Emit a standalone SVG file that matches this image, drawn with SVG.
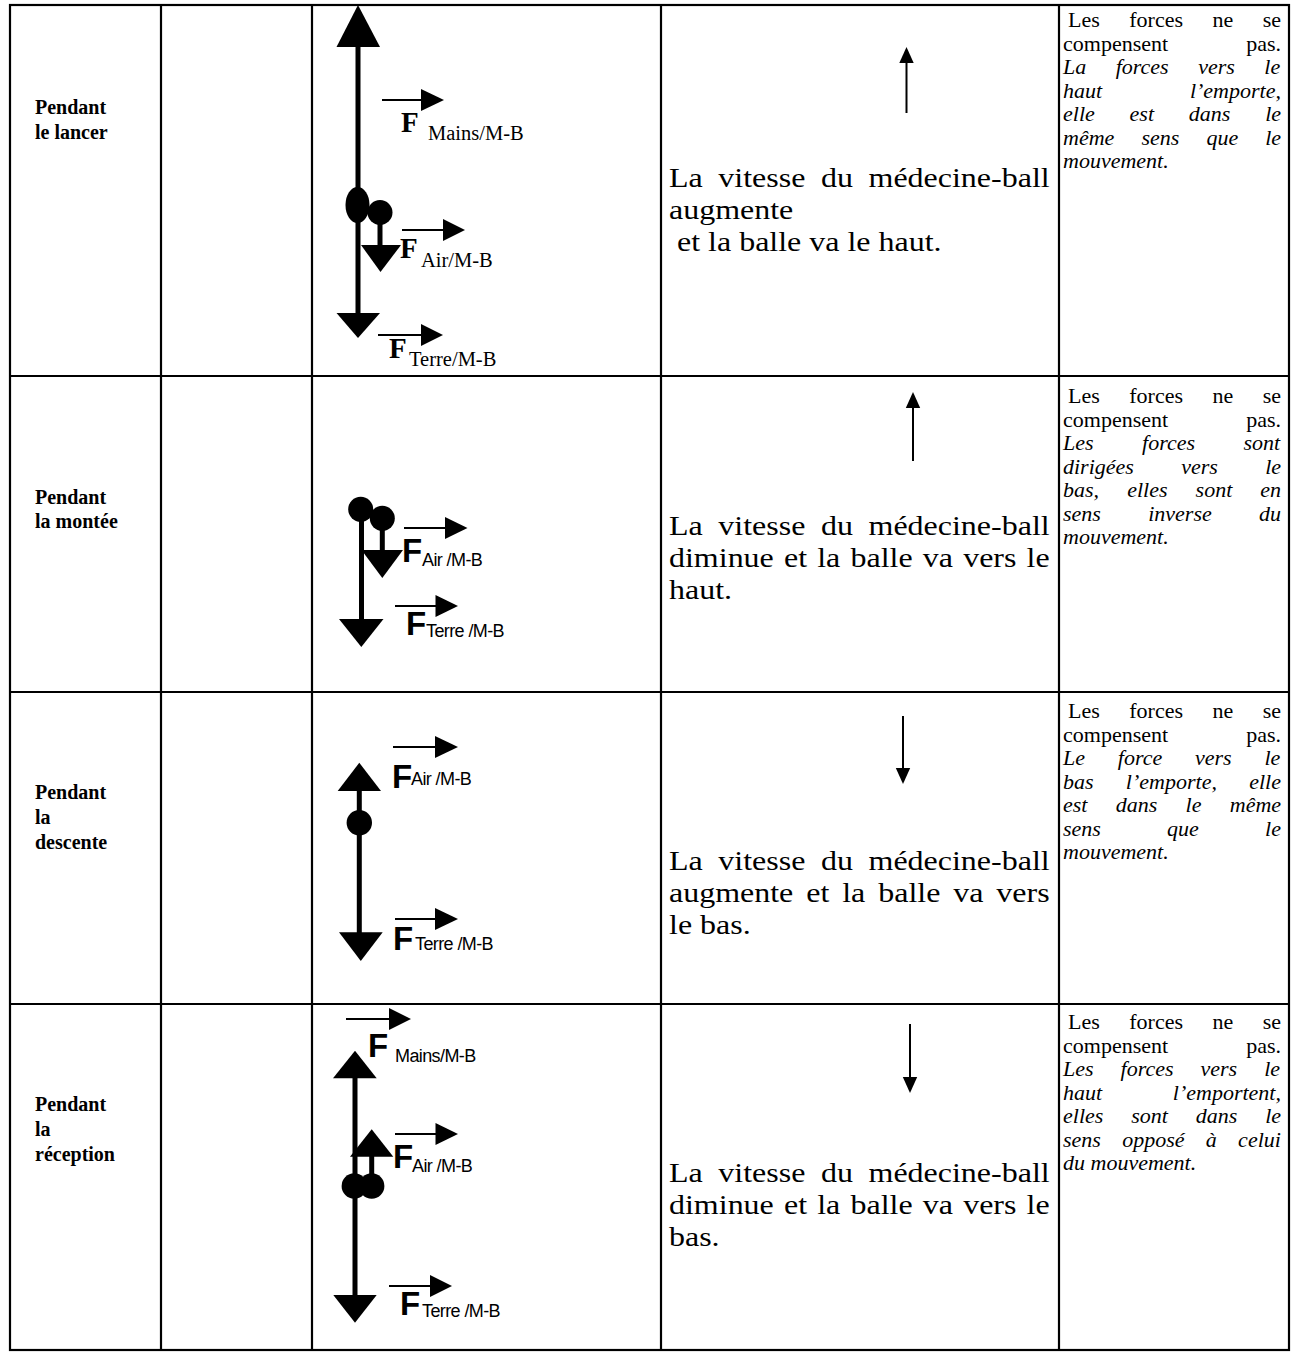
<svg xmlns="http://www.w3.org/2000/svg" width="1291" height="1352" viewBox="0 0 1291 1352">
<style>
.grid{stroke:#000;stroke-width:2.2;fill:none}
.shaft{stroke:#000;stroke-width:5;fill:none}
.thin{stroke:#000;stroke-width:2;fill:none}
.head{fill:#000;stroke:none}
.ball{fill:#000;stroke:none}
.lc{font-family:"Liberation Serif","Times New Roman",serif;font-weight:bold;font-size:20px}
.c4{font-family:"Liberation Serif","Times New Roman",serif;font-size:28px}
.rc{font-family:"Liberation Serif","Times New Roman",serif;font-size:22px}
.it{font-style:italic}
.fT{font-family:"Liberation Serif","Times New Roman",serif;font-weight:bold;font-size:29px}
.sT{font-family:"Liberation Serif","Times New Roman",serif;font-size:20.5px}
.fA{font-family:"Liberation Sans",Arial,sans-serif;font-weight:bold;font-size:33px}
.sA{font-family:"Liberation Sans",Arial,sans-serif;font-size:18px;letter-spacing:-0.6px}
</style>

<g id="table">
<rect class="grid" x="10" y="5" width="1279" height="1345"/>
<line class="grid" x1="161" y1="5" x2="161" y2="1350"/>
<line class="grid" x1="312" y1="5" x2="312" y2="1350"/>
<line class="grid" x1="661" y1="5" x2="661" y2="1350"/>
<line class="grid" x1="1059" y1="5" x2="1059" y2="1350"/>
<line class="grid" x1="10" y1="376" x2="1289" y2="376"/>
<line class="grid" x1="10" y1="692" x2="1289" y2="692"/>
<line class="grid" x1="10" y1="1004" x2="1289" y2="1004"/>
</g>

<g id="phases" class="lc">
<text x="35" y="114">Pendant</text>
<text x="35" y="139">le lancer</text>
<text x="35" y="504">Pendant</text>
<text x="35" y="528">la montée</text>
<text x="35" y="799">Pendant</text>
<text x="35" y="824">la</text>
<text x="35" y="849">descente</text>
<text x="35" y="1111">Pendant</text>
<text x="35" y="1136">la</text>
<text x="35" y="1161">réception</text>
</g>

<!-- Row 1 diagram -->
<g id="row1-diagram">
<line class="shaft" x1="358" y1="45" x2="358" y2="315"/>
<polygon class="head" points="358,5 336.5,47 380,47"/>
<polygon class="head" points="336.5,313 380,313 358,338"/>
<ellipse class="ball" cx="357.5" cy="205" rx="12" ry="18"/>
<circle class="ball" cx="380" cy="212.5" r="12.5"/>
<line class="shaft" x1="380" y1="212" x2="380" y2="247"/>
<polygon class="head" points="361,245 401,245 380.5,272"/>
<g id="r1-mains">
<line class="thin" x1="382" y1="100" x2="423" y2="100"/>
<polygon class="head" points="421,89 444,100 421,111"/>
<text class="fT" x="401" y="132">F</text>
<text class="sT" x="428" y="140">Mains/M-B</text>
</g>
<g id="r1-air">
<line class="thin" x1="402" y1="230" x2="445" y2="230"/>
<polygon class="head" points="443,219 465,230 443,241"/>
<text class="fT" x="400" y="258">F</text>
<text class="sT" x="421" y="267">Air/M-B</text>
</g>
<g id="r1-terre">
<line class="thin" x1="378" y1="335" x2="423" y2="335"/>
<polygon class="head" points="421,324 443,335 421,346"/>
<text class="fT" x="389" y="358">F</text>
<text class="sT" x="409" y="366">Terre/M-B</text>
</g>
</g>

<!-- Row 2 diagram -->
<g id="row2-diagram">
<circle class="ball" cx="360.7" cy="509.3" r="12.5"/>
<circle class="ball" cx="382.3" cy="518.3" r="12.5"/>
<line class="shaft" x1="361.5" y1="509" x2="361.5" y2="621"/>
<polygon class="head" points="339,619 383.5,619 361.3,647"/>
<line class="shaft" x1="382.3" y1="518" x2="382.3" y2="552"/>
<polygon class="head" points="361.5,550 403,550 382.3,578"/>
<g id="r2-air">
<line class="thin" x1="404" y1="528" x2="447" y2="528"/>
<polygon class="head" points="445,517 467.5,528 445,539"/>
<text class="fA" x="402" y="562">F</text>
<text class="sA" x="422" y="566">Air /M-B</text>
</g>
<g id="r2-terre">
<line class="thin" x1="395" y1="606" x2="437" y2="606"/>
<polygon class="head" points="435.5,595 458,606 435.5,617"/>
<text class="fA" x="406" y="635">F</text>
<text class="sA" x="426" y="637">Terre /M-B</text>
</g>
</g>

<!-- Row 3 diagram -->
<g id="row3-diagram">
<polygon class="head" points="359.3,762.7 337.7,791 381,791"/>
<line class="shaft" x1="359.3" y1="789" x2="359.3" y2="934"/>
<circle class="ball" cx="359.3" cy="822.7" r="12.7"/>
<polygon class="head" points="339,932.3 382.7,932.3 360.8,961"/>
<g id="r3-air">
<line class="thin" x1="393" y1="747" x2="437" y2="747"/>
<polygon class="head" points="435,736 458,747 435,758"/>
<text class="fA" x="392" y="788">F</text>
<text class="sA" x="411" y="785">Air /M-B</text>
</g>
<g id="r3-terre">
<line class="thin" x1="395" y1="919" x2="437" y2="919"/>
<polygon class="head" points="435,908 458,919 435,930"/>
<text class="fA" x="393" y="950">F</text>
<text class="sA" x="415" y="950">Terre /M-B</text>
</g>
</g>

<!-- Row 4 diagram -->
<g id="row4-diagram">
<polygon class="head" points="355,1050.7 333,1078.3 376.7,1078.3"/>
<line class="shaft" x1="355" y1="1076" x2="355" y2="1297"/>
<polygon class="head" points="333.3,1295 376.7,1295 355,1322.7"/>
<polygon class="head" points="371.7,1129.3 350,1156.7 393.3,1156.7"/>
<line class="shaft" x1="371.7" y1="1154" x2="371.7" y2="1186"/>
<circle class="ball" cx="354.3" cy="1186" r="12.7"/>
<circle class="ball" cx="371.7" cy="1186" r="12.7"/>
<g id="r4-mains">
<line class="thin" x1="346" y1="1019" x2="391" y2="1019"/>
<polygon class="head" points="389,1008 411,1019 389,1030"/>
<text class="fA" x="368" y="1057">F</text>
<text class="sA" x="395" y="1062">Mains/M-B</text>
</g>
<g id="r4-air">
<line class="thin" x1="395" y1="1134" x2="437" y2="1134"/>
<polygon class="head" points="435.5,1123 458,1134 435.5,1145"/>
<text class="fA" x="393" y="1168">F</text>
<text class="sA" x="412" y="1172">Air /M-B</text>
</g>
<g id="r4-terre">
<line class="thin" x1="389" y1="1286" x2="432" y2="1286"/>
<polygon class="head" points="430,1275 452,1286 430,1297"/>
<text class="fA" x="400" y="1315">F</text>
<text class="sA" x="422" y="1317">Terre /M-B</text>
</g>
</g>

<!-- Column 4: direction arrows and speed text -->
<g id="motion-arrows">
<line class="thin" x1="906.5" y1="60" x2="906.5" y2="113"/>
<polygon class="head" points="906.5,47 899.3,63 913.7,63"/>
<line class="thin" x1="913" y1="405" x2="913" y2="461"/>
<polygon class="head" points="913,392 905.8,408 920.2,408"/>
<line class="thin" x1="903" y1="716" x2="903" y2="771"/>
<polygon class="head" points="903,784 895.8,768 910.2,768"/>
<line class="thin" x1="910" y1="1024" x2="910" y2="1080"/>
<polygon class="head" points="910,1093 902.8,1077 917.2,1077"/>
</g>

<g id="speed-text" class="c4" transform="translate(669,0) scale(1.143,1) translate(-669,0)">
<text x="669" y="187" style="word-spacing:6.65px">La vitesse du médecine-ball</text>
<text x="669" y="219">augmente</text>
<text x="676" y="251">et la balle va le haut.</text>
<text x="669" y="535" style="word-spacing:6.65px">La vitesse du médecine-ball</text>
<text x="669" y="567" style="word-spacing:1.9px">diminue et la balle va vers le</text>
<text x="669" y="599">haut.</text>
<text x="669" y="870" style="word-spacing:6.65px">La vitesse du médecine-ball</text>
<text x="669" y="902" style="word-spacing:4.3px">augmente et la balle va vers</text>
<text x="669" y="934">le bas.</text>
<text x="669" y="1182" style="word-spacing:6.65px">La vitesse du médecine-ball</text>
<text x="669" y="1214" style="word-spacing:1.9px">diminue et la balle va vers le</text>
<text x="669" y="1246">bas.</text>
</g>

<!-- Column 5: explanations -->
<g id="explain1" class="rc">
<text x="1068" y="27" style="word-spacing:24px">Les forces ne se</text>
<text x="1063" y="50.5" style="word-spacing:72.6px">compensent pas.</text>
<text class="it" x="1063" y="74" style="word-spacing:24px">La forces vers le</text>
<text class="it" x="1063" y="97.5" style="word-spacing:82.3px">haut l’emporte,</text>
<text class="it" x="1063" y="121" style="word-spacing:29.3px">elle est dans le</text>
<text class="it" x="1063" y="144.5" style="word-spacing:21.6px">même sens que le</text>
<text class="it" x="1063" y="168">mouvement.</text>
</g>
<g id="explain2" class="rc">
<text x="1068" y="403" style="word-spacing:24px">Les forces ne se</text>
<text x="1063" y="426.5" style="word-spacing:72.6px">compensent pas.</text>
<text class="it" x="1063" y="450" style="word-spacing:43px">Les forces sont</text>
<text class="it" x="1063" y="473.5" style="word-spacing:41.8px">dirigées vers le</text>
<text class="it" x="1063" y="497" style="word-spacing:22.6px">bas, elles sont en</text>
<text class="it" x="1063" y="520.5" style="word-spacing:41.8px">sens inverse du</text>
<text class="it" x="1063" y="544">mouvement.</text>
</g>
<g id="explain3" class="rc">
<text x="1068" y="718" style="word-spacing:24px">Les forces ne se</text>
<text x="1063" y="741.5" style="word-spacing:72.6px">compensent pas.</text>
<text class="it" x="1063" y="765" style="word-spacing:27.3px">Le force vers le</text>
<text class="it" x="1063" y="788.5" style="word-spacing:26.8px">bas l’emporte, elle</text>
<text class="it" x="1063" y="812" style="word-spacing:22.8px">est dans le même</text>
<text class="it" x="1063" y="835.5" style="word-spacing:60.7px">sens que le</text>
<text class="it" x="1063" y="859">mouvement.</text>
</g>
<g id="explain4" class="rc">
<text x="1068" y="1029" style="word-spacing:24px">Les forces ne se</text>
<text x="1063" y="1052.5" style="word-spacing:72.6px">compensent pas.</text>
<text class="it" x="1063" y="1076" style="word-spacing:21.5px">Les forces vers le</text>
<text class="it" x="1063" y="1099.5" style="word-spacing:65.2px">haut l’emportent,</text>
<text class="it" x="1063" y="1123" style="word-spacing:22.4px">elles sont dans le</text>
<text class="it" x="1063" y="1146.5" style="word-spacing:15.8px">sens opposé à celui</text>
<text class="it" x="1063" y="1170">du mouvement.</text>
</g>
</svg>
